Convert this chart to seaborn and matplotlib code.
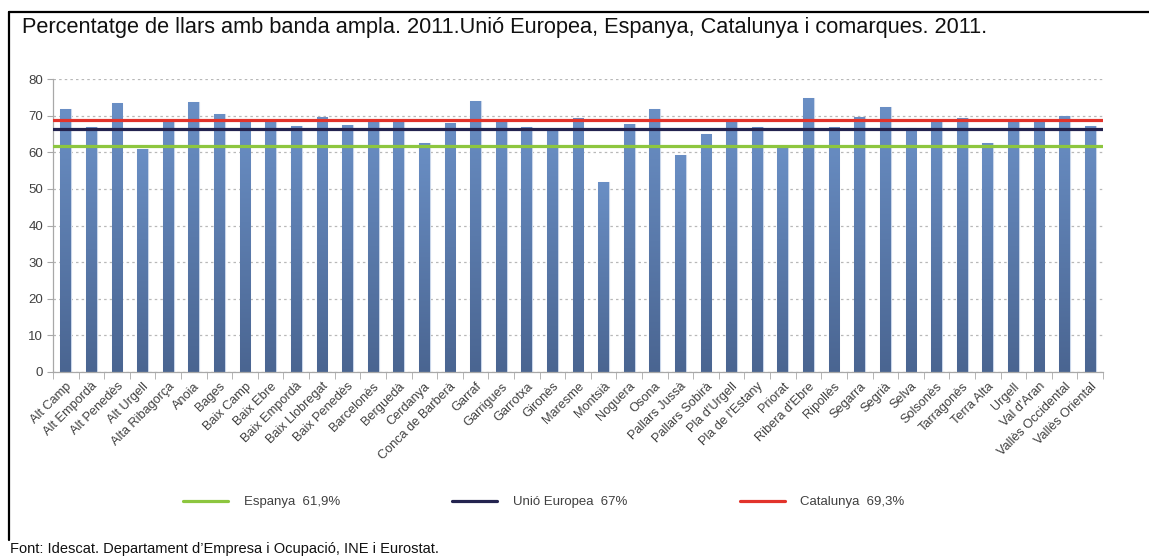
import numpy as np
import pandas as pd
import matplotlib
matplotlib.use("Agg")
import matplotlib.pyplot as plt
from matplotlib.colors import LinearSegmentedColormap
from matplotlib.lines import Line2D
import seaborn as sns

# data
comarques = ["Alt Camp", "Alt Empordà", "Alt Penedès", "Alt Urgell", "Alta Ribagorça",
             "Anoia", "Bages", "Baix Camp", "Baix Ebre", "Baix Empordà", "Baix Llobregat",
             "Baix Penedès", "Barcelonès", "Berguedà", "Cerdanya", "Conca de Barberà",
             "Garraf", "Garrigues", "Garrotxa", "Gironès", "Maresme", "Montsià", "Noguera",
             "Osona", "Pallars Jussà", "Pallars Sobirà", "Pla d'Urgell", "Pla de l'Estany",
             "Priorat", "Ribera d'Ebre", "Ripollès", "Segarra", "Segrià", "Selva",
             "Solsonès", "Tarragonès", "Terra Alta", "Urgell", "Val d'Aran",
             "Vallès Occidental", "Vallès Oriental"]
percentatge = [71.9, 66.9, 73.4, 60.9, 68.9, 73.7, 70.4, 68.7, 68.9, 67.2, 69.5,
               67.4, 68.8, 68.4, 62.6, 68.0, 74.0, 68.9, 66.9, 66.0, 69.3, 51.9, 67.8,
               71.8, 59.3, 64.9, 69.0, 66.9, 61.1, 74.9, 66.9, 69.5, 72.4, 66.6,
               68.2, 69.3, 62.5, 68.6, 68.8, 69.9, 67.1]
ref_labels = ["Espanya  61,9%", "Unió Europea  67%", "Catalunya  69,3%"]
ref_values = [61.6, 66.4, 68.8]
ref_colors = ["#8dc63f", "#23234f", "#e2332b"]

df = pd.DataFrame({"comarca": comarques, "pct": percentatge})

sns.set_style("white")
plt.rcParams["font.family"] = ["Liberation Sans", "DejaVu Sans"]

W, H = 1149, 557
fig = plt.figure(figsize=(W / 100, H / 100), dpi=100)
ax = fig.add_axes([53 / W, 1 - 372 / H, (1103 - 53) / W, (372 - 79) / H])

sns.barplot(data=df, x="comarca", y="pct", color="#5a7db3", width=0.42,
            edgecolor="#c9d6ea", linewidth=0.8, ax=ax, zorder=2)

# vertical gradient on each bar
cmap = LinearSegmentedColormap.from_list("barg", ["#4a6591", "#6a8fc5"])
grad = np.linspace(0, 1, 256).reshape(-1, 1)
for p in ax.patches:
    x0, w, h = p.get_x(), p.get_width(), p.get_height()
    im = ax.imshow(grad, extent=[x0, x0 + w, 0, h], origin="lower", aspect="auto",
                   cmap=cmap, zorder=2.1)
    im.set_clip_path(p)

handles = []
for val, col, lab in zip(ref_values, ref_colors, ref_labels):
    ln = ax.axhline(val, color=col, lw=2.3, zorder=3, label=lab)
    handles.append(ln)

n = len(comarques)
ax.set_xlim(-0.5, n - 0.5)
ax.set_ylim(0, 80)
ax.set_yticks(range(0, 81, 10))
ax.yaxis.grid(True, color="#b8b8b8", linestyle=(0, (2, 2.5)), lw=0.9)
ax.set_axisbelow(True)
ax.set_xlabel("")
ax.set_ylabel("")
for s in ["top", "right"]:
    ax.spines[s].set_visible(False)
for s in ["left", "bottom"]:
    ax.spines[s].set_color("#a8a8a8")
    ax.spines[s].set_linewidth(0.9)

ax.tick_params(axis="y", left=True, length=4, color="#a8a8a8", labelsize=9.5,
               labelcolor="#404040", pad=3)
ax.set_xticks(range(n))
ax.set_xticklabels(comarques, rotation=45, ha="right", rotation_mode="anchor",
                   fontsize=9.2, color="#404040")
ax.tick_params(axis="x", which="major", length=0, pad=6)
ax.set_xticks(np.arange(-0.5, n), minor=True)
ax.tick_params(axis="x", which="minor", bottom=True, length=5, color="#a8a8a8")

fig.legend(handles=handles, labels=ref_labels, loc="center", ncol=3,
           bbox_to_anchor=(544 / W, 1 - 502 / H), frameon=False, fontsize=9.5,
           handlelength=3.4, handletextpad=1.2, columnspacing=8.5,
           labelcolor="#404040")

fig.text(22 / W, 1 - 27 / H,
         "Percentatge de llars amb banda ampla. 2011.Unió Europea, Espanya, Catalunya i comarques. 2011.",
         fontsize=15.7, va="center", ha="left", color="#111111")
fig.text(10 / W, 1 - 549 / H,
         "Font: Idescat. Departament d’Empresa i Ocupació, INE i Eurostat.",
         fontsize=10.5, va="center", ha="left", color="#111111")

# frame around the chart
fig.add_artist(Line2D([9 / W, 1], [1 - 12 / H, 1 - 12 / H], color="black", lw=1.6))
fig.add_artist(Line2D([9 / W, 9 / W], [1 - 12 / H, 1 - 540 / H], color="black", lw=1.6))

fig.savefig("out.png", dpi=100)
